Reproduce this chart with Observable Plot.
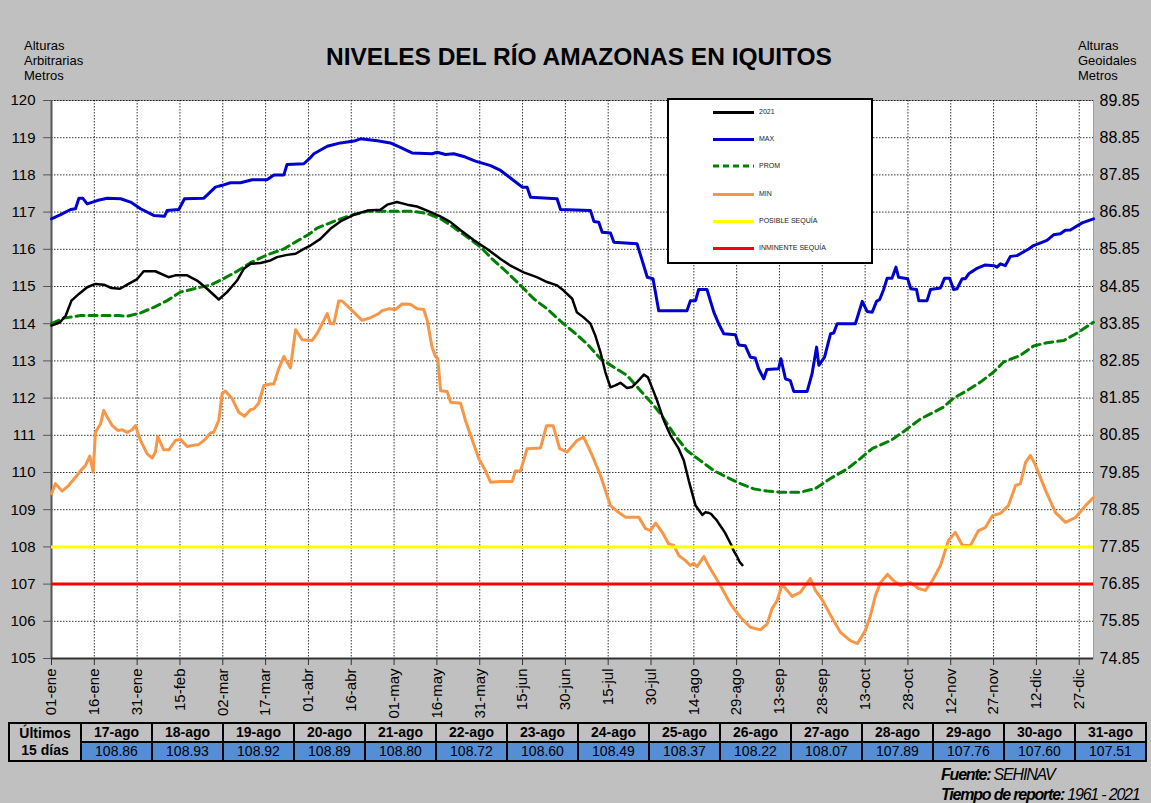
<!DOCTYPE html>
<html><head><meta charset="utf-8">
<script src="https://cdn.jsdelivr.net/npm/d3@7"></script>
<script src="https://cdn.jsdelivr.net/npm/@observablehq/plot@0.6"></script>
<style>
html,body{margin:0;padding:0;background:#c0c0c0;}
#wrap{position:relative;width:1151px;height:803px;background:#c0c0c0;font-family:"Liberation Sans",Arial,sans-serif;overflow:hidden;color:#000;}
#chart{position:absolute;left:0;top:0;}
.title{position:absolute;left:0;width:1158px;top:43px;text-align:center;font-weight:bold;font-size:24.5px;}
.lab{position:absolute;font-size:13px;line-height:15px;}
#legend{position:absolute;left:667px;top:98px;width:202px;height:162px;background:#fff;border:2px solid #000;}
#legend .row{position:absolute;left:44px;height:10px;}
#legend .sw{position:absolute;left:0;top:4px;width:41px;height:3px;}
#legend .tx{position:absolute;left:46px;top:0;font-size:7px;line-height:10px;color:#222;white-space:nowrap;}
#tbl{position:absolute;left:8px;top:722px;border-collapse:collapse;table-layout:fixed;}
#tbl td{border:2px solid #000;padding:0;text-align:center;font-size:14px;overflow:hidden;white-space:nowrap;}
#tbl tr.h td{font-weight:bold;height:17px;line-height:17px;}
#tbl tr.v td{background:#558ed5;height:17px;line-height:17px;}
#tbl td.first{font-weight:bold;background:#c0c0c0;line-height:19px;}
.foot{position:absolute;left:941px;font-size:16px;font-style:italic;letter-spacing:-1.2px;white-space:nowrap;}
</style>
</head><body>
<div id="wrap">
  <div id="chart"></div>
  <div class="title">NIVELES DEL RÍO AMAZONAS EN IQUITOS</div>
  <div class="lab" style="left:24px;top:38px;">Alturas<br>Arbitrarias<br>Metros</div>
  <div class="lab" style="left:1078px;top:38px;">Alturas<br>Geoidales<br>Metros</div>
  <div id="legend"></div>
  <table id="tbl"></table>
  <div class="foot" style="top:766px;"><b>Fuente:</b> SEHINAV</div>
  <div class="foot" style="top:786px;"><b>Tiempo de reporte:</b> 1961 - 2021</div>
</div>
<script>
// ---- Data (day of year from 01-ene = 0, level in arbitrary metres) ----
const serie2021 = [[0,113.95],[3,114.04],[5,114.22],[7,114.62],[9.6,114.80],[12.5,114.98],[15.4,115.07],[18.3,115.05],[21,114.96],[24,114.94],[27,115.07],[30,115.2],[32.3,115.41],[36.4,115.41],[41,115.25],[43.4,115.30],[47.5,115.30],[51,115.16],[54.5,114.94],[58.6,114.65],[61.5,114.85],[65,115.16],[67.4,115.48],[69.7,115.61],[73.2,115.63],[76.7,115.70],[79,115.79],[82.5,115.85],[85.5,115.88],[88.4,116.01],[90.7,116.1],[94.2,116.28],[97.7,116.55],[101.2,116.75],[106,116.93],[110.6,117.04],[115.2,117.06],[117.6,117.2],[121,117.27],[124.6,117.2],[128,117.15],[131.6,117.04],[136,116.89],[139.8,116.73],[143.3,116.51],[148,116.24],[152.6,116.01],[157.3,115.74],[160.8,115.56],[165.4,115.38],[170,115.25],[173.6,115.12],[177.1,115.03],[179.4,114.89],[182.4,114.67],[184,114.31],[186.4,114.17],[188.8,114.0],[190.5,113.68],[192.3,113.23],[194,112.70],[195.8,112.29],[197.5,112.34],[199.3,112.41],[201.6,112.27],[203.4,112.30],[205.1,112.43],[207.5,112.63],[208.9,112.56],[211,112.16],[212.1,111.94],[214.5,111.40],[216.8,111.0],[219.7,110.64],[221.5,110.32],[223.2,109.79],[225.6,109.11],[228,108.86],[229,108.93],[230,108.92],[231,108.89],[232,108.80],[233,108.72],[234,108.60],[235,108.49],[236,108.37],[237,108.22],[238,108.07],[239,107.89],[240,107.76],[241,107.60],[242,107.51]];
const serieMax = [[0,116.82],[3.2,116.93],[6.7,117.07],[8.4,117.09],[9.6,117.37],[11,117.37],[12.5,117.22],[16,117.31],[19.5,117.37],[24.2,117.36],[27.7,117.27],[31.2,117.09],[35.8,116.91],[39.6,116.89],[40.5,117.04],[44.6,117.07],[46.6,117.36],[53.3,117.37],[57.4,117.67],[59.8,117.72],[62.7,117.79],[66.2,117.79],[70.3,117.87],[75.5,117.87],[77.9,118.0],[81.4,118.0],[82.5,118.28],[88.4,118.30],[90.5,118.45],[91.9,118.57],[96.6,118.77],[101.2,118.86],[106,118.91],[108.2,118.97],[114.1,118.92],[118.7,118.86],[122.2,118.74],[126.3,118.59],[133.3,118.57],[135.1,118.61],[138,118.55],[140.9,118.57],[145,118.48],[148.5,118.37],[153.8,118.25],[157.3,118.12],[161.9,117.85],[164.9,117.67],[166.6,117.67],[167.8,117.40],[177.1,117.36],[178.3,117.07],[188.8,117.04],[190,116.75],[191.7,116.73],[192.9,116.46],[195.8,116.44],[197,116.19],[205.1,116.15],[206.3,115.85],[208.7,115.25],[210.7,115.21],[212.7,114.35],[222.6,114.35],[223.8,114.62],[225.6,114.62],[226.7,114.92],[229.6,114.92],[232,114.31],[233.7,114.0],[235.5,113.73],[239.6,113.70],[240.7,113.43],[243,113.41],[244.8,113.10],[246.5,113.08],[247.7,112.79],[249.5,112.52],[250.6,112.77],[254.7,112.79],[255.5,113.06],[257.1,112.52],[258.8,112.47],[260,112.18],[264.7,112.18],[266.4,112.65],[268,113.37],[268.8,112.88],[270.8,113.10],[272.9,113.73],[274,113.75],[275.2,114.0],[281.6,114.0],[284,114.60],[285.7,114.33],[287.5,114.31],[289,114.60],[290.1,114.65],[291.5,114.92],[292.7,115.22],[294.4,115.22],[295.8,115.52],[296.7,115.25],[299.9,115.21],[301,114.94],[303,114.92],[303.8,114.62],[306.7,114.62],[307.9,114.92],[311.4,114.96],[312.8,115.22],[314.6,115.22],[316,114.92],[317.2,114.94],[319,115.21],[320.1,115.21],[321.3,115.34],[324.2,115.49],[327.1,115.58],[330.1,115.56],[331.2,115.52],[332.4,115.61],[334.1,115.56],[335.9,115.81],[338.2,115.83],[342.3,116.01],[344,116.10],[348.7,116.24],[351,116.39],[353.4,116.42],[355.1,116.51],[356.9,116.52],[361,116.71],[365,116.82]];
const serieProm = [[0,114.0],[4.3,114.15],[10.2,114.22],[15,114.22],[19.5,114.22],[23.6,114.22],[26.5,114.20],[31.2,114.29],[35.8,114.44],[40.5,114.62],[45.2,114.85],[51,114.96],[55.7,115.04],[60.3,115.21],[65,115.41],[69.7,115.64],[75.5,115.85],[81.4,116.01],[86,116.22],[90.5,116.42],[93,116.57],[98.9,116.75],[104.7,116.91],[110.6,117.02],[116.4,117.02],[122.2,117.02],[126.9,117.02],[131.6,116.96],[136.3,116.82],[140.9,116.59],[145.6,116.33],[150.3,116.06],[154.9,115.70],[159.6,115.38],[164.3,115.03],[168.9,114.67],[173.6,114.40],[178.3,114.07],[183,113.77],[187.6,113.46],[192.3,113.06],[197,112.83],[201.6,112.61],[206.3,112.20],[211,111.80],[213.3,111.58],[218,111.04],[222.6,110.59],[227.3,110.32],[232,110.05],[236.7,109.87],[241.3,109.70],[246,109.56],[250.7,109.50],[255.3,109.47],[262.3,109.47],[267.6,109.57],[272.9,109.84],[279,110.11],[283.4,110.38],[287.6,110.65],[294,110.86],[299,111.13],[304.4,111.44],[309,111.62],[312.5,111.76],[316,112.0],[320.7,112.20],[325.4,112.43],[330,112.70],[333.5,112.97],[339.4,113.15],[344,113.40],[348.7,113.49],[354.6,113.55],[359.3,113.75],[365,114.04]];
const serieMin = [[0,109.43],[1.4,109.70],[3.7,109.50],[6,109.65],[8.4,109.87],[10.2,110.05],[11.9,110.19],[13.4,110.44],[14.6,110.01],[15.4,111.08],[17.2,111.31],[18.3,111.67],[19.5,111.49],[21.3,111.26],[23.2,111.13],[24.8,111.15],[26.5,111.08],[28.3,111.15],[29.4,111.26],[31.2,110.86],[33.5,110.50],[35.3,110.39],[36.4,110.55],[37.2,110.97],[39.3,110.61],[41.1,110.61],[43.4,110.86],[45.2,110.89],[47.5,110.70],[49.8,110.73],[51.6,110.75],[53.9,110.90],[55.7,111.06],[56.8,111.08],[58.6,111.40],[59.8,112.13],[60.9,112.19],[63.3,111.98],[65.6,111.62],[67.6,111.51],[69.7,111.69],[70.9,111.71],[72.6,111.87],[74.4,112.34],[76.7,112.38],[77.9,112.38],[79.6,112.79],[81.4,113.12],[83.7,112.81],[85.5,113.84],[87.8,113.57],[91.3,113.55],[93,113.73],[96.6,114.27],[97.7,114.0],[98.9,114.0],[100.6,114.61],[101.8,114.61],[104.7,114.40],[108.8,114.09],[111.7,114.16],[114.6,114.27],[115.8,114.35],[118.1,114.40],[120.5,114.38],[122.8,114.53],[125.7,114.52],[128.1,114.40],[130.4,114.38],[131.6,114.09],[133.3,113.37],[134.5,113.12],[135.3,113.06],[136.3,112.20],[138.6,112.18],[139.8,111.89],[143.3,111.86],[145,111.40],[146.8,111.0],[149.7,110.37],[152,110.05],[153.8,109.74],[157.3,109.76],[161.4,109.76],[162.5,110.04],[164.3,110.04],[166.6,110.64],[171.3,110.66],[173.4,111.26],[175.7,111.26],[178,110.64],[180.6,110.55],[184.1,110.86],[186.4,110.95],[189.4,110.46],[192.3,109.92],[195.8,109.11],[198.1,108.96],[201,108.80],[205.7,108.80],[208.1,108.49],[209.8,108.44],[211.6,108.64],[213.9,108.40],[216.2,108.08],[218,108.04],[219.7,107.77],[222.1,107.63],[223.8,107.50],[225,107.56],[226.1,107.47],[228.5,107.74],[230.8,107.41],[234.3,106.96],[237.8,106.47],[241.3,106.11],[244.8,105.84],[248.3,105.77],[250.7,105.93],[252.4,106.34],[254.2,106.56],[255.9,106.99],[257.7,106.83],[259.4,106.67],[262.3,106.78],[265.8,107.15],[267.6,106.83],[270.1,106.56],[272.9,106.16],[276.4,105.70],[279.8,105.48],[282.3,105.40],[285.1,105.75],[286.9,106.16],[288.6,106.69],[290.4,107.04],[292.8,107.26],[294.9,107.10],[297.4,106.96],[300.9,107.04],[303.7,106.88],[306.1,106.83],[308.6,107.10],[311.4,107.50],[314.2,108.17],[316.6,108.39],[319.1,108.04],[321.9,108.04],[324.7,108.44],[327.1,108.52],[329.6,108.84],[332.4,108.90],[335.2,109.11],[337.7,109.65],[339.4,109.70],[341.2,110.27],[342.9,110.46],[344.7,110.19],[348.2,109.52],[351.7,108.92],[355.2,108.66],[358.7,108.79],[362.2,109.11],[365,109.33]];
const posibleSequia = 108;
const inminenteSequia = 107;

const xTickDays = [0,15,30,45,60,75,90,105,120,135,150,165,180,195,210,225,240,255,270,285,300,315,330,345,360];
const xTickLabels = ["01-ene","16-ene","31-ene","15-feb","02-mar","17-mar","01-abr","16-abr","01-may","16-may","31-may","15-jun","30-jun","15-jul","30-jul","14-ago","29-ago","13-sep","28-sep","13-oct","28-oct","12-nov","27-nov","12-dic","27-dic"];
const yTicks = [105,106,107,108,109,110,111,112,113,114,115,116,117,118,119,120];
const geoidalLabels = ["74.85","75.85","76.85","77.85","78.85","79.85","80.85","81.85","82.85","83.85","84.85","85.85","86.85","87.85","88.85","89.85"];

const ultimosFechas = ["17-ago","18-ago","19-ago","20-ago","21-ago","22-ago","23-ago","24-ago","25-ago","26-ago","27-ago","28-ago","29-ago","30-ago","31-ago"];
const ultimosValores = [108.86,108.93,108.92,108.89,108.80,108.72,108.60,108.49,108.37,108.22,108.07,107.89,107.76,107.60,107.51];

const legendNames = ["2021","MAX","PROM","MIN","POSIBLE SEQUÍA","INMINENTE SEQUÍA"];
const legendColors = ["#000000","#0000cc","#008000","#f79646","#ffff00","#ff0000"];

// ---- Chart ----
const X = d => d[0], Y = d => d[1];
const plot = Plot.plot({
  width: 1151, height: 720,
  marginLeft: 51, marginRight: 58, marginTop: 100, marginBottom: 62,
  style: {background: "transparent", fontFamily: "Liberation Sans, Arial, sans-serif", fontSize: "15px", color: "#000", overflow: "visible"},
  x: {domain: [0, 365]},
  y: {domain: [105, 120]},
  marks: [
    Plot.frame({fill: "#fff", stroke: "#a0a0a0"}),
    Plot.gridY(yTicks, {stroke: "#000", strokeOpacity: 0.8, strokeDasharray: "1.5,1.5"}),
    Plot.gridX(xTickDays, {stroke: "#000", strokeOpacity: 0.8, strokeDasharray: "1.5,1.5"}),
    Plot.ruleX([0], {stroke: "#555", strokeWidth: 2}),
    Plot.ruleY([105], {stroke: "#333", strokeWidth: 2}),
    Plot.axisY(yTicks, {anchor: "left", tickSize: 8, tickPadding: 8, fontSize: 15, label: null, stroke: "#555", tickFormat: d => String(d)}),
    Plot.axisY(yTicks, {anchor: "right", tickSize: 0, tickPadding: 6, fontSize: 16, label: null, tickFormat: d => geoidalLabels[yTicks.indexOf(d)]}),
    Plot.axisX(xTickDays, {anchor: "bottom", tickSize: 7, tickPadding: 3, tickRotate: -90, fontSize: 15, label: null, stroke: "#333", tickFormat: d => xTickLabels[xTickDays.indexOf(d)]}),
    Plot.line(serieMax, {x: X, y: Y, stroke: legendColors[1], strokeWidth: 3}),
    Plot.line(serieProm, {x: X, y: Y, stroke: legendColors[2], strokeWidth: 3, strokeDasharray: "8,5"}),
    Plot.line(serieMin, {x: X, y: Y, stroke: legendColors[3], strokeWidth: 3}),
    Plot.line(serie2021, {x: X, y: Y, stroke: legendColors[0], strokeWidth: 2.5}),
    Plot.ruleY([posibleSequia], {stroke: legendColors[4], strokeWidth: 3}),
    Plot.ruleY([inminenteSequia], {stroke: legendColors[5], strokeWidth: 3})
  ]
});
document.getElementById("chart").appendChild(plot);

// ---- Legend ----
const leg = document.getElementById("legend");
const rowTops = [7, 34, 61, 89, 116, 143];
legendNames.forEach((name, i) => {
  const r = document.createElement("div");
  r.className = "row";
  r.style.top = rowTops[i] + "px";
  const sw = i === 2
    ? `<svg class="sw" style="height:4px;top:3px" width="41" height="4"><line x1="0" y1="2" x2="41" y2="2" stroke="${legendColors[i]}" stroke-width="3" stroke-dasharray="6,4"/></svg>`
    : `<div class="sw" style="background:${legendColors[i]}"></div>`;
  r.innerHTML = sw + `<div class="tx">${name}</div>`;
  leg.appendChild(r);
});

// ---- Table ----
const tbl = document.getElementById("tbl");
let cols = `<colgroup><col style="width:72px">` + ultimosFechas.map(() => `<col style="width:71px">`).join("") + `</colgroup>`;
let h = `<tr class="h"><td class="first" rowspan="2">Últimos<br>15 días</td>` + ultimosFechas.map(f => `<td>${f}</td>`).join("") + `</tr>`;
let v = `<tr class="v">` + ultimosValores.map(x => `<td>${x.toFixed(2)}</td>`).join("") + `</tr>`;
tbl.innerHTML = cols + h + v;
</script>
</body></html>
